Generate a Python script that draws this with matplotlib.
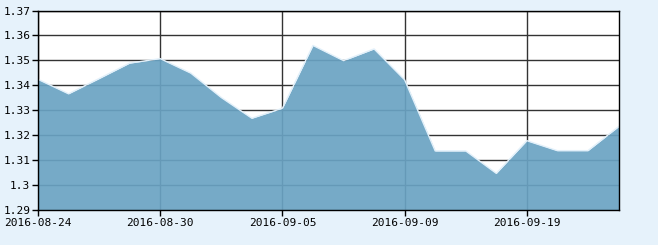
import matplotlib
matplotlib.use("Agg")
import matplotlib.pyplot as plt
import numpy as np

# trading days shown on the chart
dates = ["2016-08-24", "2016-08-25", "2016-08-26", "2016-08-29", "2016-08-30",
         "2016-08-31", "2016-09-01", "2016-09-02", "2016-09-05", "2016-09-06",
         "2016-09-07", "2016-09-08", "2016-09-09", "2016-09-12", "2016-09-13",
         "2016-09-14", "2016-09-19", "2016-09-20", "2016-09-21", "2016-09-22"]
values = [1.3424, 1.3366, 1.3427, 1.3489, 1.3507,
          1.3449, 1.3351, 1.3268, 1.3308, 1.3560,
          1.3499, 1.3546, 1.3422, 1.3137, 1.3137,
          1.3047, 1.3178, 1.3138, 1.3138, 1.3234]
xtick_labels = ["2016-08-24", "2016-08-30", "2016-09-05", "2016-09-09", "2016-09-19"]
yticks = [1.29, 1.30, 1.31, 1.32, 1.33, 1.34, 1.35, 1.36, 1.37]
ytick_labels = ["1.29", "1.3", "1.31", "1.32", "1.33", "1.34", "1.35", "1.36", "1.37"]

plt.rcParams['font.family'] = ['DejaVu Sans Mono']
plt.rcParams['font.size'] = 8

fig = plt.figure(figsize=(6.58, 2.45), dpi=100)
fig.patch.set_facecolor('#e6f2fb')
ax = fig.add_axes([38 / 658, 1 - 210 / 245, 580.5 / 658, 199.5 / 245])
ax.set_facecolor('white')

x = np.arange(len(dates))
ax.set_axisbelow(True)
ax.grid(True, color='#333333', linewidth=1)
ax.fill_between(x, values, 1.29, color='#6aa3c3', alpha=0.92, linewidth=0, zorder=3)
ax.plot(x, values, color='#e2f0fa', linewidth=1.0, zorder=4)

ax.set_xlim(0, len(dates) - 1)
ax.set_ylim(1.29, 1.37)
ax.set_yticks(yticks)
ax.set_yticklabels(ytick_labels)
ax.set_xticks([dates.index(d) for d in xtick_labels])
ax.set_xticklabels(xtick_labels)
ax.tick_params(axis='both', length=4, width=1, color='black', pad=1.5, labelcolor='black')

for s in ax.spines.values():
    s.set_color('black')
    s.set_linewidth(1)
    s.set_zorder(5)

fig.savefig('out.png', dpi=100, facecolor=fig.get_facecolor())
